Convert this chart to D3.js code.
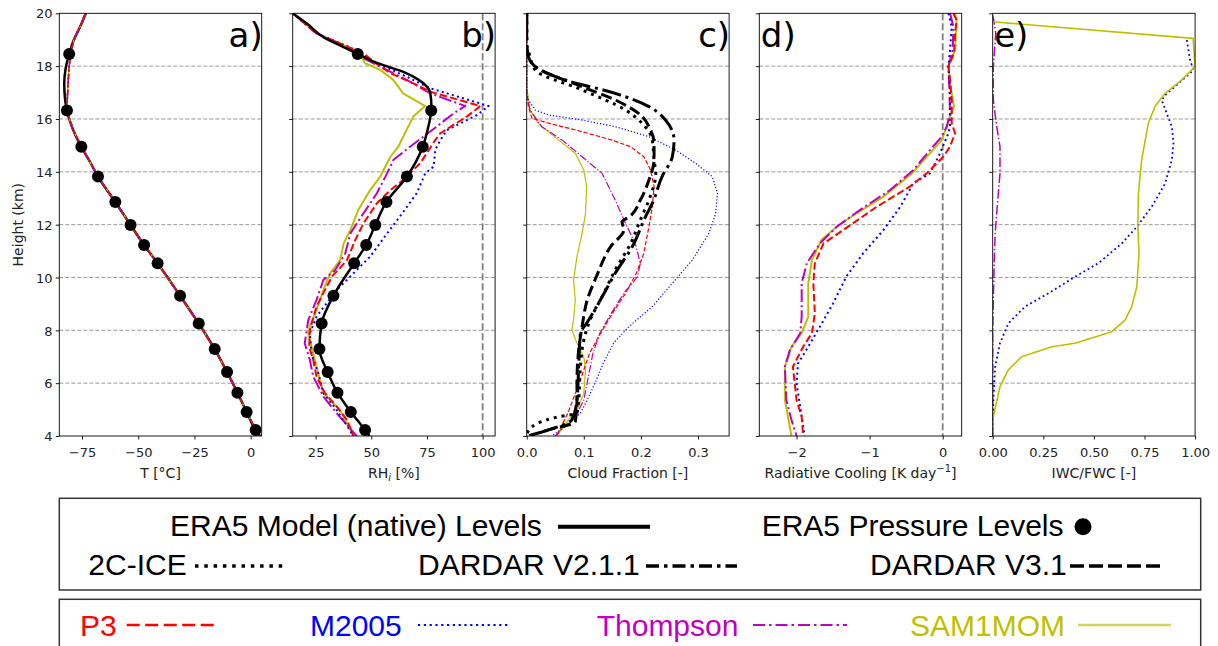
<!DOCTYPE html>
<html><head><meta charset="utf-8">
<script src="https://cdn.jsdelivr.net/npm/d3@7"></script>
<style>body{margin:0;background:#fff} svg{display:block}</style>
</head><body>
<svg id="c" width="1218" height="646"></svg>
<script>
// ---------- DATA ----------
const heightTicks = [4,6,8,10,12,14,16,18,20];
const gridHeights = [6,8,10,12,14,16,18];

// ERA5 pressure levels (dots)
const plHeight = [18.46,16.32,14.95,13.82,12.86,11.99,11.23,10.54,9.31,8.26,7.29,6.42,5.64,4.91,4.23];
const plT      = [-80.7,-81.7,-75.3,-67.9,-60.2,-53.4,-47.4,-41.4,-31.4,-23.1,-16.0,-10.5,-5.9,-1.8,2.2];
const plRH     = [43.9,76.9,73.1,66.0,56.8,51.8,47.7,42.3,33.0,27.7,26.7,30.4,34.8,40.8,47.2];

// ERA5 model (native) levels
const nativeT_h = [20,19.5,19.0,18.46,17.9,17.35,16.8,16.32,15.9,15.5,14.95,14.4,13.82,12.86,11.99,11.23,10.54,9.31,8.26,7.29,6.42,5.64,4.91,4.23,4.0];
const nativeT   = [-73.3,-75.8,-78.6,-80.7,-82.3,-82.9,-82.6,-81.7,-80.3,-78.5,-75.3,-71.6,-67.9,-60.2,-53.4,-47.4,-41.4,-31.4,-23.1,-16.0,-10.5,-5.9,-1.8,2.2,4.2];
const nativeRH_h = [20,19.6,19.1,18.74,18.46,18.17,17.73,17.35,16.97,16.47,16.32,15.46,14.95,13.82,12.86,11.99,11.23,10.54,9.31,8.26,7.29,6.42,5.64,4.91,4.23,4.0];
const nativeRH   = [14.7,21.2,28.5,37.1,43.9,51.0,65.9,73.4,76.5,77.0,76.9,74.9,73.1,66.0,56.8,51.8,47.7,42.3,33.0,27.7,26.7,30.4,34.8,40.8,47.2,49.2];

// Models: temperature (all four nearly identical)
const modelT_h = [20,19.5,19.0,18.46,17.9,17.35,16.8,16.32,15.9,15.5,14.95,14.4,13.82,12.86,11.99,11.23,10.54,9.31,8.26,7.29,6.42,5.64,4.91,4.23,4.0];
const modelT   = [-73.3,-75.8,-78.6,-80.1,-80.8,-81.2,-81.5,-81.7,-80.3,-78.5,-75.3,-71.6,-67.9,-60.2,-53.4,-47.4,-41.4,-31.4,-23.1,-16.0,-10.5,-5.9,-1.8,2.2,4.2];

// Models: RHi
const p3RH_h = [20,19.24,18.74,18.49,18.17,17.73,17.35,17.03,16.49,16.09,15.46,15.2,14.7,14.32,13.69,13.31,12.81,12.05,11.42,10.66,10.03,9.53,8.9,8.01,7.38,6.88,6.25,5.62,5.11,4.61,4.0];
const p3RH   = [14.7,25.4,39.1,46.5,51.0,58.6,68.9,76.5,99.0,92.9,81.0,78.7,74.9,71.9,64.3,58.6,52.5,46.5,42.8,39.1,32.3,29.2,25.4,22.4,22.1,23.9,25.4,29.2,34.5,39.1,42.0];
const m2005RH_h = [20,19.24,18.74,18.36,18.11,17.6,17.16,16.49,16.15,15.58,15.2,14.83,14.2,13.94,13.19,12.3,11.67,10.79,10.16,9.53,8.52,7.89,7.13,6.37,5.62,4.98,4.0];
const m2005RH   = [14.7,25.4,39.6,48.0,52.5,65.9,76.5,102.7,97.5,83.9,81.0,78.7,78.0,74.2,70.4,62.8,57.1,49.5,42.0,34.5,25.4,22.4,23.1,26.2,28.5,34.5,42.0];
const thRH_h = [20,19.24,18.74,18.3,17.48,16.97,16.49,16.21,15.71,15.33,14.95,14.45,13.94,13.19,12.43,11.67,10.91,10.28,9.91,9.15,8.39,7.51,6.88,6.25,5.49,4.86,4.0];
const thRH   = [14.7,25.4,39.1,46.5,65.9,76.5,92.2,86.9,79.4,73.4,67.4,59.9,57.1,52.5,46.5,40.6,38.3,33.8,28.5,25.4,21.7,20.1,22.4,23.9,28.5,34.5,43.4];
const samRH_h = [20,19.24,18.74,18.36,18.11,17.86,17.48,16.97,16.49,16.09,15.71,14.95,14.57,13.82,13.31,12.56,11.8,11.29,10.66,10.16,9.53,8.77,8.14,7.89,7.13,6.37,5.62,4.98,4.0];
const samRH   = [14.7,25.4,39.1,45.7,47.2,54.0,59.9,64.3,74.2,68.9,66.6,62.1,58.6,54.0,49.5,44.2,40.6,37.6,36.0,31.5,28.5,25.4,22.4,21.7,23.9,26.2,28.5,36.0,42.0];

// Cloud fraction: observations
const iceCF_h = [20,18.8,18.5,17.85,17.1,16.34,15.84,15.2,14.45,13.94,12.93,12.18,11.29,10.28,9.27,8.39,7.63,6.62,5.36,4.86,4.73,4.23,4.0];
const iceCF   = [0,0,0.004,0.015,0.097,0.173,0.202,0.22,0.223,0.226,0.214,0.199,0.182,0.155,0.132,0.111,0.1,0.094,0.091,0.088,0.056,0.004,0];
const dv2CF_h = [20,18.8,18.36,17.98,17.48,16.97,16.47,15.96,15.2,14.57,13.82,12.81,12.3,11.17,10.16,9.15,8.27,7.89,6.62,5.36,4.61,4.23,4.0];
const dv2CF   = [0,0,0.003,0.015,0.067,0.155,0.214,0.243,0.258,0.255,0.237,0.22,0.208,0.185,0.155,0.129,0.105,0.094,0.091,0.088,0.079,0.038,0.003];
const dv3CF_h = [20,18.8,18.4,17.98,17.22,16.72,16.21,15.58,15.08,14.45,13.69,12.93,12.3,12.11,11.8,11.17,10.03,9.15,8.14,7.26,6.0,5.36,4.54,4.23,4.0];
const dv3CF   = [0,0,0.003,0.015,0.097,0.155,0.196,0.217,0.223,0.223,0.214,0.199,0.18,0.167,0.17,0.147,0.122,0.106,0.097,0.091,0.088,0.088,0.085,0.038,0.003];
// Cloud fraction: models
const p3CF_h = [20,17.0,16.47,16.03,15.84,15.52,15.2,14.95,14.57,14.07,13.44,12.68,11.92,10.91,10.16,9.4,8.64,7.76,7.13,6.25,5.49,4.86,4.35,4.0];
const p3CF   = [0,0,0.003,0.009,0.038,0.097,0.149,0.182,0.205,0.217,0.223,0.22,0.214,0.205,0.192,0.173,0.15,0.126,0.11,0.096,0.083,0.072,0.06,0.053];
const m2005CF_h = [20,17.0,16.72,16.34,16.15,15.96,15.71,15.33,14.82,14.32,13.82,13.19,12.43,11.67,10.66,9.78,8.9,8.14,7.51,6.75,6.12,5.36,4.86,4.35,4.0];
const m2005CF   = [0,0,0.003,0.015,0.038,0.097,0.155,0.214,0.261,0.296,0.325,0.334,0.331,0.319,0.29,0.255,0.22,0.179,0.152,0.134,0.122,0.106,0.094,0.067,0.044];
const thCF_h = [20,16.85,16.34,15.71,15.2,14.57,13.94,12.93,12.05,11.29,10.54,10.03,9.4,8.64,7.89,7.13,6.25,5.36,4.73,4.29,4.0];
const thCF   = [0,0,0.006,0.026,0.062,0.097,0.132,0.155,0.173,0.19,0.199,0.194,0.17,0.148,0.128,0.116,0.108,0.1,0.085,0.062,0.05];
const samCF_h = [20,17.22,16.34,15.84,15.2,14.7,14.07,13.44,12.43,11.67,10.79,9.91,9.15,8.39,8.01,7.51,7.0,6.5,5.62,4.98,4.61,4.29,4.0];
const samCF   = [0,0,0.006,0.02,0.056,0.085,0.1,0.105,0.103,0.097,0.088,0.082,0.085,0.082,0.079,0.088,0.1,0.103,0.1,0.088,0.073,0.062,0.053];

// Radiative cooling
const p3RC_h = [20,19.75,19.24,18.49,17.98,17.48,16.72,15.84,15.46,14.95,14.57,13.94,13.44,12.68,11.8,11.29,10.54,9.78,8.64,7.89,7.38,6.62,5.36,4.73,4.0];
const p3RC   = [0.146,0.19,0.17,0.155,0.078,0.1,0.123,0.123,0.169,0.1,0.009,-0.22,-0.45,-0.9,-1.36,-1.63,-1.75,-1.77,-1.75,-1.79,-1.91,-2.05,-2.0,-1.93,-1.91];
const m2005RC_h = [20,19.5,18.61,17.98,17.22,16.34,15.71,15.46,14.7,13.94,13.57,12.68,11.8,10.91,10.03,9.02,8.14,7.38,6.75,5.99,5.11,4.0];
const m2005RC   = [0.078,0.123,0.1,0.078,0.1,0.1,0.1,0.078,-0.037,-0.174,-0.4,-0.58,-0.81,-1.09,-1.32,-1.5,-1.68,-1.84,-1.98,-2.0,-1.95,-1.89];
const thRC_h = [20,19.5,18.61,17.98,17.22,16.21,15.71,15.33,14.82,14.07,13.31,12.56,11.92,11.29,10.54,9.78,8.52,7.89,7.26,6.62,5.36,4.61,4.0];
const thRC   = [0.1,0.146,0.137,0.078,0.09,0.1,0.055,-0.014,-0.174,-0.4,-0.72,-1.13,-1.45,-1.68,-1.86,-1.93,-1.93,-1.95,-2.09,-2.16,-2.14,-2.07,-2.0];
const samRC_h = [20,19.68,18.61,17.98,17.35,16.47,16.09,15.71,15.2,14.7,13.94,13.06,12.43,11.92,11.42,10.66,9.78,8.52,7.89,7.38,6.62,5.36,4.61,4.0];
const samRC   = [0.169,0.19,0.169,0.078,0.1,0.155,0.1,0.055,-0.014,-0.174,-0.42,-0.81,-1.18,-1.45,-1.66,-1.79,-1.84,-1.84,-1.93,-2.07,-2.16,-2.16,-2.11,-2.07];

// IWC/FWC
const samIWC_h = [19.68,19.05,17.98,17.48,16.97,16.47,15.84,14.45,13.19,11.92,10.91,9.65,8.9,8.39,7.95,7.51,7.38,7.0,6.5,5.87,4.73,4.0];
const samIWC   = [0,0.99,1.0,0.934,0.852,0.802,0.769,0.736,0.72,0.717,0.723,0.712,0.687,0.654,0.588,0.407,0.292,0.143,0.077,0.036,0.003,0];
const m2005IWC_h = [18.99,18.23,17.85,17.35,16.9,16.72,16.21,15.71,15.08,14.45,13.56,12.68,11.92,11.29,10.54,10.03,9.4,8.9,8.26,7.51,6.62,5.36,4.0];
const m2005IWC   = [0.959,0.975,0.992,0.918,0.852,0.835,0.86,0.885,0.893,0.885,0.852,0.786,0.712,0.638,0.522,0.407,0.275,0.16,0.077,0.036,0.012,0.003,0];
const thIWC_h = [19.93,19.62,19.24,17.98,16.72,15.71,14.95,13.94,12.93,11.67,10.41,9.15,8.0,4.0];
const thIWC   = [0,0.008,0.015,0.003,0.003,0.02,0.036,0.036,0.025,0.012,0.007,0.003,0,0];

// Tick labels
const ticksA = [-75,-50,-25,0];
const ticksB = [25,50,75,100];
const ticksC = [0.0,0.1,0.2,0.3];
const ticksD = [-2,-1,0];
const ticksE = [0,0.25,0.5,0.75,1.0];

// ---------- STYLE ----------
const COL = {p3:"#ff0000", m2005:"#0000ff", th:"#bf00bf", sam:"#bfbf00"};
const dash = (style, lw) => {
  if (style==="dashed") return `${3.7*lw},${1.6*lw}`;
  if (style==="dotted") return `${1*lw},${1.65*lw}`;
  if (style==="dashdot") return `${6.4*lw},${1.6*lw},${1*lw},${1.6*lw}`;
  return null;
};
const FONT = "'DejaVu Sans', sans-serif";

const svg = d3.select("#c");
const plotTop = 13.3, plotBottom = 436, pw = 202.4;
const lefts = [59.3, 292.7, 526.7, 759.3, 992.7];
const yScale = d3.scaleLinear().domain([4,20]).range([plotBottom, plotTop]);

const defs = svg.append("defs");

function makePanel(i, domain, ticks, fmt, xlabel, letter, letterRight) {
  const L = lefts[i];
  const x = d3.scaleLinear().domain(domain).range([L, L+pw]);
  const g = svg.append("g");
  defs.append("clipPath").attr("id","clip"+i).append("rect")
    .attr("x",L).attr("y",plotTop).attr("width",pw).attr("height",plotBottom-plotTop);
  g.selectAll("line.grid").data(gridHeights).join("line")
    .attr("x1",L).attr("x2",L+pw).attr("y1",d=>yScale(d)).attr("y2",d=>yScale(d))
    .attr("stroke","#9a9a9a").attr("stroke-width",1).attr("stroke-dasharray","4,2");
  const xa = g.append("g").attr("transform",`translate(0,${plotBottom})`)
    .call(d3.axisBottom(x).tickValues(ticks).tickFormat(fmt).tickSizeOuter(0).tickSize(3.5));
  xa.select(".domain").remove();
  xa.selectAll("line").attr("stroke","#000").attr("stroke-width",0.9);
  xa.selectAll("text").attr("y",21).attr("dy",null)
    .attr("font-family",FONT).attr("font-size",13).attr("fill","#222");
  const ya = g.append("g").attr("transform",`translate(${L},0)`)
    .call(d3.axisLeft(yScale).tickValues(heightTicks).tickFormat(i===0? d3.format("d") : ()=>"").tickSizeOuter(0).tickSize(3.5));
  ya.select(".domain").remove();
  ya.selectAll("line").attr("stroke","#000").attr("stroke-width",0.9);
  ya.selectAll("text").attr("x",-6.8).attr("dy","0.36em")
    .attr("font-family",FONT).attr("font-size",13).attr("fill","#222");
  const xl = g.append("text").attr("x",L+pw/2).attr("y",478).attr("text-anchor","middle")
    .attr("font-family",FONT).attr("font-size",14).attr("fill","#222");
  xlabel(xl);
  const plot = svg.append("g").attr("clip-path",`url(#clip${i})`);
  const frame = () => svg.append("rect").attr("x",L).attr("y",plotTop).attr("width",pw).attr("height",plotBottom-plotTop)
    .attr("fill","none").attr("stroke","#000").attr("stroke-width",0.9);
  const lab = () => svg.append("text").attr("x", letterRight ? L+pw+1 : L+1.5).attr("y",47)
    .attr("text-anchor", letterRight ? "end":"start")
    .attr("font-family",FONT).attr("font-size",34).attr("fill","#000").text(letter);
  return {x, plot, frame, lab};
}

function drawLine(P, hs, vs, color, style, lw, curve) {
  const pts = hs.map((h,k)=>[vs[k],h]);
  const line = d3.line().x(d=>P.x(d[0])).y(d=>yScale(d[1])).curve(curve||d3.curveLinear);
  P.plot.append("path").attr("d",line(pts)).attr("fill","none")
    .attr("stroke",color).attr("stroke-width",lw)
    .attr("stroke-dasharray",dash(style,lw)).attr("stroke-linejoin","round");
}
function drawDots(P, hs, vs) {
  P.plot.selectAll(null).data(hs.map((h,k)=>[vs[k],h])).join("circle")
    .attr("cx",d=>P.x(d[0])).attr("cy",d=>yScale(d[1])).attr("r",6).attr("fill","#000");
}
function vref(P, v) {
  P.plot.append("line").attr("x1",P.x(v)).attr("x2",P.x(v)).attr("y1",plotTop).attr("y2",plotBottom)
    .attr("stroke","#808080").attr("stroke-width",1.8).attr("stroke-dasharray","7,3");
}

// Panel a
const A = makePanel(0,[-85.1,4.9],ticksA,d3.format("d"), t=>t.text("T [°C]"), "a)", true);
drawLine(A, nativeT_h, nativeT, "#000", "solid", 2.5, d3.curveMonotoneY);
drawLine(A, modelT_h, modelT, COL.sam, "solid", 1.5);
drawLine(A, modelT_h, modelT, COL.th, "dashdot", 1.5);
drawLine(A, modelT_h, modelT, COL.m2005, "dotted", 1.5);
drawLine(A, modelT_h, modelT, COL.p3, "dashed", 1.5);
drawDots(A, plHeight, plT);
A.frame(); A.lab();

// Panel b
const B = makePanel(1,[14.7,105.6],ticksB,d3.format("d"), t=>{t.append("tspan").text("RH");
  t.append("tspan").attr("font-size",10).attr("dy",3).attr("font-style","italic").text("i");
  t.append("tspan").attr("dy",-3).text(" [%]");}, "b)", true);
vref(B, 100);
drawLine(B, samRH_h, samRH, COL.sam, "solid", 2);
drawLine(B, thRH_h, thRH, COL.th, "dashdot", 2);
drawLine(B, m2005RH_h, m2005RH, COL.m2005, "dotted", 2);
drawLine(B, p3RH_h, p3RH, COL.p3, "dashed", 2);
drawLine(B, nativeRH_h, nativeRH, "#000", "solid", 2.5, d3.curveMonotoneY);
drawDots(B, plHeight, plRH);
B.frame(); B.lab();

// Panel c
const C = makePanel(2,[0,0.3544],ticksC,d3.format(".1f"), t=>t.text("Cloud Fraction [-]"), "c)", true);
drawLine(C, samCF_h, samCF, COL.sam, "solid", 1.2);
drawLine(C, thCF_h, thCF, COL.th, "dashdot", 1.2);
drawLine(C, m2005CF_h, m2005CF, COL.m2005, "dotted", 1.2);
drawLine(C, p3CF_h, p3CF, COL.p3, "dashed", 1.2);
drawLine(C, iceCF_h, iceCF, "#000", "dotted", 3, d3.curveMonotoneY);
drawLine(C, dv2CF_h, dv2CF, "#000", "dashdot", 3, d3.curveMonotoneY);
drawLine(C, dv3CF_h, dv3CF, "#000", "dashed", 3, d3.curveMonotoneY);
C.frame(); C.lab();

// Panel d
const D = makePanel(3,[-2.51,0.26],ticksD,d3.format("d"), t=>{t.append("tspan").text("Radiative Cooling [K day");
  t.append("tspan").attr("font-size",10).attr("dy",-6).text("−1");
  t.append("tspan").attr("dy",6).text("]");}, "d)", false);
vref(D, 0);
drawLine(D, samRC_h, samRC, COL.sam, "solid", 2);
drawLine(D, thRC_h, thRC, COL.th, "dashdot", 2);
drawLine(D, m2005RC_h, m2005RC, COL.m2005, "dotted", 2);
drawLine(D, p3RC_h, p3RC, COL.p3, "dashed", 2);
D.frame(); D.lab();

// Panel e
const E = makePanel(4,[0,1],ticksE,d3.format(".2f"), t=>t.text("IWC/FWC [-]"), "e)", false);
drawLine(E, thIWC_h, thIWC, COL.th, "dashdot", 1.5);
drawLine(E, m2005IWC_h, m2005IWC, COL.m2005, "dotted", 1.8);
drawLine(E, samIWC_h, samIWC, COL.sam, "solid", 1.6);
E.frame(); E.lab();

// Height label
svg.append("text").attr("transform","translate(22.5,224.7) rotate(-90)").attr("text-anchor","middle")
  .attr("font-family",FONT).attr("font-size",14).attr("fill","#222").text("Height (km)");

// ---------- LEGEND ----------
const LF = "'Liberation Sans', Arial, sans-serif";
svg.append("rect").attr("x",59.3).attr("y",498.3).attr("width",1141.4).attr("height",91.7)
  .attr("fill","none").attr("stroke","#333").attr("stroke-width",1.5);
svg.append("rect").attr("x",59.3).attr("y",599.3).attr("width",1141.4).attr("height",60)
  .attr("fill","none").attr("stroke","#333").attr("stroke-width",1.5);

const legendItems = [
  {label:"ERA5 Model (native) Levels", tx:170, ty:536, x1:558, x2:650, ly:526.7, color:"#000", dash:null, lw:4, text:"#000"},
  {label:"2C-ICE", tx:88.3, ty:575, x1:195, x2:288, ly:566, color:"#000", dash:"3.5,5.8", lw:3.5, text:"#000"},
  {label:"DARDAR V2.1.1", tx:418, ty:575, x1:646, x2:737, ly:566, color:"#000", dash:"13,5,3.5,5", lw:3.5, text:"#000"},
  {label:"DARDAR V3.1", tx:870, ty:575, x1:1070, x2:1163, ly:566, color:"#000", dash:"14,5", lw:3.5, text:"#000"},
  {label:"P3", tx:80, ty:635.7, x1:126.7, x2:218.3, ly:625, color:COL.p3, dash:"13,5.5", lw:2.5, text:COL.p3},
  {label:"M2005", tx:310, ty:635.7, x1:418, x2:510, ly:625, color:COL.m2005, dash:"2.2,3.6", lw:2.2, text:COL.m2005},
  {label:"Thompson", tx:596.7, ty:635.7, x1:753, x2:847, ly:625, color:COL.th, dash:"12,4,2.5,4", lw:2.2, text:COL.th},
  {label:"SAM1MOM", tx:910, ty:635.7, x1:1078, x2:1171, ly:625, color:"#d2d26a", dash:null, lw:2.5, text:COL.sam}
];
const lg = svg.append("g");
lg.selectAll("text").data(legendItems).join("text")
  .attr("x",d=>d.tx).attr("y",d=>d.ty).attr("font-family",LF).attr("font-size",30)
  .attr("fill",d=>d.text).text(d=>d.label);
lg.selectAll("line").data(legendItems).join("line")
  .attr("x1",d=>d.x1).attr("x2",d=>d.x2).attr("y1",d=>d.ly).attr("y2",d=>d.ly)
  .attr("stroke",d=>d.color).attr("stroke-width",d=>d.lw).attr("stroke-dasharray",d=>d.dash);
svg.append("text").attr("x",761.7).attr("y",536).attr("font-family",LF).attr("font-size",30)
  .attr("fill","#000").text("ERA5 Pressure Levels");
svg.append("circle").attr("cx",1083).attr("cy",526.7).attr("r",8.5).attr("fill","#000");
</script>
</body></html>
